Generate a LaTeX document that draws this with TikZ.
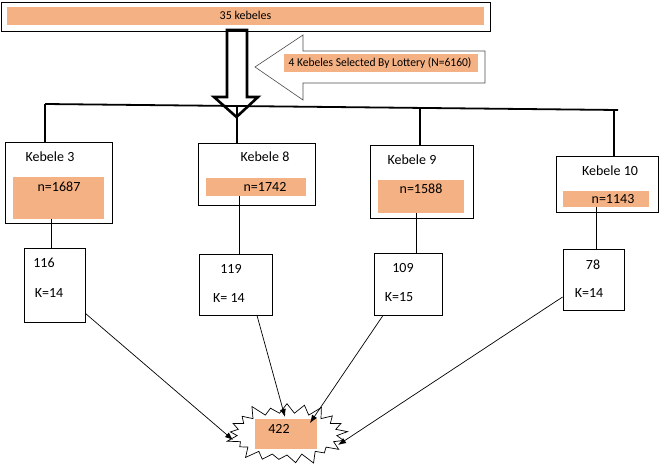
\documentclass[tikz,border=0pt]{standalone}
\usepackage{fontspec}
\setmainfont{Carlito}
\usetikzlibrary{shapes.symbols,arrows.meta}
\definecolor{peach}{RGB}{244,177,131}
\begin{document}
\begin{tikzpicture}[x=1pt,y=-1pt,
  box/.style={draw,line width=0.9pt,inner sep=0pt,minimum width=#1},
  obox/.style={fill=peach,inner sep=0pt},
  txt/.style={inner sep=0pt,font=\fontsize{14}{16}\selectfont},
  link/.style={line width=0.7pt},
  bus/.style={line width=1.8pt},
  arr/.style={line width=0.7pt,-{Latex[length=8pt,width=6pt]}}]
\useasboundingbox (0,0) rectangle (660,468);
% top box
\node[box=489pt,minimum height=29pt] (top) at (245.5,16.5) {};
\node[obox,minimum width=477pt,minimum height=18pt] (topo) at (245.5,16) {};
\node[txt,font=\fontsize{12}{14}\selectfont] (toptxt) at (245.5,15.5) {35 kebeles};
% down hollow arrow
\draw[line width=2.6pt,line join=miter] (227,30) -- (247,30) -- (247,97) -- (258,97) -- (236.5,117) -- (214,97) -- (227,97) -- cycle;
% left hollow arrow
\draw[line width=0.6pt,black!70] (255,67) -- (303,35) -- (303,51) -- (485,51) -- (485,83) -- (303,83) -- (303,100) -- cycle;
\node[obox,minimum width=194pt,minimum height=18pt] (lot) at (381,63) {};
\node[txt,font=\fontsize{12}{14}\selectfont,xscale=0.96] (lottxt) at (380,63) {4 Kebeles Selected By Lottery (N=6160)};
% bus
\coordinate (busL) at (45,104);
\coordinate (busR) at (618,110);
\draw[bus] (busL) -- (busR);
\coordinate (b3) at (45,104);
\coordinate (b8) at (237,106);
\coordinate (b9) at (420,108);
\coordinate (b10) at (614,110);
% kebele boxes
\node[box=107pt,minimum height=81pt] (k3) at (58.5,182.5) {};
\node[obox,minimum width=91pt,minimum height=42pt] (o3) at (58.5,198) {};
\node[txt] at (50,157) {Kebele 3};
\node[txt] at (59,187) {n=1687};
\node[box=117pt,minimum height=62pt] (k8) at (256.5,174) {};
\node[obox,minimum width=100pt,minimum height=18pt] (o8) at (256,187) {};
\node[txt] at (265,157) {Kebele 8};
\node[txt] at (265,187) {n=1742};
\node[box=103pt,minimum height=73pt] (k9) at (421.5,181.5) {};
\node[obox,minimum width=86pt,minimum height=33pt] (o9) at (421,196.5) {};
\node[txt] at (412,160) {Kebele 9};
\node[txt] at (421,189) {n=1588};
\node[box=102pt,minimum height=56pt] (k10) at (607,184) {};
\node[obox,minimum width=86pt,minimum height=16pt] (o10) at (606,199) {};
\node[txt] at (610,171) {Kebele 10};
\node[txt] at (613,199) {n=1143};
% bus drops
\draw[bus] (b3) -- (b3 |- k3.north);
\draw[bus] (b8) -- (b8 |- k8.north);
\draw[bus] (b9) -- (b9 |- k9.north);
\draw[bus] (b10) -- (b10 |- k10.north);
% small boxes
\node[box=61pt,minimum height=74pt] (s3) at (54.5,285) {};
\node[txt] at (44,263) {116};
\node[txt] at (49,293) {K=14};
\node[box=73pt,minimum height=61pt] (s8) at (235.5,284.5) {};
\node[txt] at (231,269) {119};
\node[txt] at (229,298) {K= 14};
\node[box=68pt,minimum height=62pt] (s9) at (408,284) {};
\node[txt] at (403,268) {109};
\node[txt] at (399,297) {K=15};
\node[box=61pt,minimum height=61pt] (s10) at (593.5,279.5) {};
\node[txt] at (593,265) {78};
\node[txt] at (589,293) {K=14};
% links
\draw[link] ([xshift=-7.5pt]o3.south) -- ([xshift=-7.5pt]o3.south |- s3.north);
\draw[link] ([xshift=-17pt]o8.south) -- ([xshift=-17pt]o8.south |- s8.north);
\draw[link] ([xshift=-5pt]o9.south) -- ([xshift=-5pt]o9.south |- s9.north);
\draw[link] ([xshift=-10pt]o10.south) -- ([xshift=-10pt]o10.south |- s10.north);
% starburst
\node[starburst,draw,line width=0.7pt,fill=white,starburst points=21,starburst point height=13pt,inner sep=0pt,minimum width=126pt,minimum height=68pt] (burst) at (287,434) {};
\node[obox,minimum width=62pt,minimum height=30pt] (res) at (286,434) {};
\node[txt] at (279,429) {422};
\coordinate (e1) at (233,440);
\coordinate (e2) at (285,417);
\coordinate (e3) at (310,423);
\coordinate (e4) at (338,445);
\draw[arr] ([yshift=9pt]s3.south east) -- (e1);
\draw[arr] ([xshift=21.5pt]s8.south) -- (e2);
\draw[arr] ([xshift=-25pt]s9.south) -- (e3);
\draw[arr] ([yshift=-17.5pt]s10.west) -- (e4);
\end{tikzpicture}
\end{document}
